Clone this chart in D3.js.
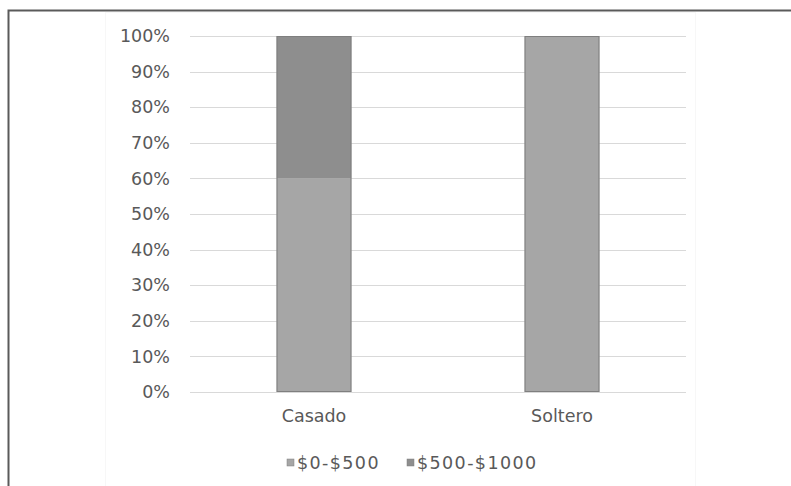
<!DOCTYPE html>
<html>
<head>
<meta charset="utf-8">
<script src="https://cdn.jsdelivr.net/npm/d3@7"></script>
<style>
  html, body { margin: 0; padding: 0; background: #fff; }
  svg { display: block; }
  text { font-family: "DejaVu Sans", sans-serif; fill: #595959; }
</style>
</head>
<body>
<svg id="chart" width="791" height="486"></svg>
<script>
const categories = ["Casado", "Soltero"];
const seriesNames = ["$0-$500", "$500-$1000"];
const seriesLow = [0.60, 1.00];   // $0-$500
const seriesHigh = [0.40, 0.00];  // $500-$1000
const yTicks = [0, 0.1, 0.2, 0.3, 0.4, 0.5, 0.6, 0.7, 0.8, 0.9, 1.0];
const colors = ["#a6a6a6", "#8e8e8e"];
const fontSize = "17.5px";

const svg = d3.select("#chart");

// outer frame
svg.append("path")
  .attr("d", "M8.5,486 L8.5,10.5 L791,10.5")
  .attr("fill", "none").attr("stroke", "#5a5a5a").attr("stroke-width", 2);

// faint chart-area border
svg.append("rect")
  .attr("x", 105.5).attr("y", 12.5).attr("width", 590).attr("height", 480)
  .attr("fill", "none").attr("stroke", "#f7f7f7").attr("stroke-width", 1);

const x = d3.scaleBand().domain(categories).range([190, 686])
  .paddingInner(0.698).paddingOuter(0.349);
const y = d3.scaleLinear().domain([0, 1]).range([392, 36]);

// gridlines
svg.append("g").selectAll("line").data(yTicks).join("line")
  .attr("x1", 190).attr("x2", 686)
  .attr("y1", d => Math.round(y(d)) + 0.5).attr("y2", d => Math.round(y(d)) + 0.5)
  .attr("stroke", "#d9d9d9").attr("stroke-width", 1);

// y axis labels
const yAxis = d3.axisLeft(y).tickValues(yTicks).tickFormat(d3.format(".0%")).tickSize(0).tickPadding(0);
const gy = svg.append("g").attr("transform", "translate(170,0)").call(yAxis);
gy.select(".domain").remove();
gy.selectAll("text").style("font-family", "DejaVu Sans, sans-serif")
  .style("font-size", fontSize).attr("fill", "#595959");

// stacked data
const rows = categories.map((c, i) => ({ cat: c, low: seriesLow[i], high: seriesHigh[i] }));
const stack = d3.stack().keys(["low", "high"])(rows);

svg.append("g").selectAll("g").data(stack).join("g")
  .attr("fill", (d, i) => colors[i])
  .selectAll("rect").data(d => d.filter(p => p[1] - p[0] > 0)).join("rect")
  .attr("x", d => x(d.data.cat))
  .attr("width", x.bandwidth())
  .attr("y", d => y(d[1]))
  .attr("height", d => y(d[0]) - y(d[1]));

// bar outline
svg.append("g").selectAll("rect").data(rows).join("rect")
  .attr("x", d => x(d.cat) + 0.5)
  .attr("width", x.bandwidth() - 1)
  .attr("y", d => y(d.low + d.high) + 0.5)
  .attr("height", d => y(0) - y(d.low + d.high) - 1)
  .attr("fill", "none").attr("stroke", "#7f7f7f").attr("stroke-width", 1);

// x axis labels
const xAxis = d3.axisBottom(x).tickSize(0).tickPadding(0);
const gx = svg.append("g").attr("transform", "translate(0,410)").call(xAxis);
gx.select(".domain").remove();
gx.selectAll("text").style("font-family", "DejaVu Sans, sans-serif")
  .style("font-size", fontSize).attr("fill", "#595959");

// legend
const legendX = [287, 407];
const lg = svg.append("g").selectAll("g").data(seriesNames).join("g")
  .attr("transform", (d, i) => `translate(${legendX[i]},463)`);
lg.append("rect").attr("x", 0).attr("y", -4).attr("width", 7).attr("height", 7)
  .attr("fill", (d, i) => colors[i]).attr("stroke", "#7f7f7f").attr("stroke-width", 0.5);
lg.append("text").attr("x", 10).attr("y", 0).attr("dy", "0.35em")
  .style("font-size", fontSize).style("letter-spacing", "1.4px").text(d => d);
</script>
</body>
</html>
